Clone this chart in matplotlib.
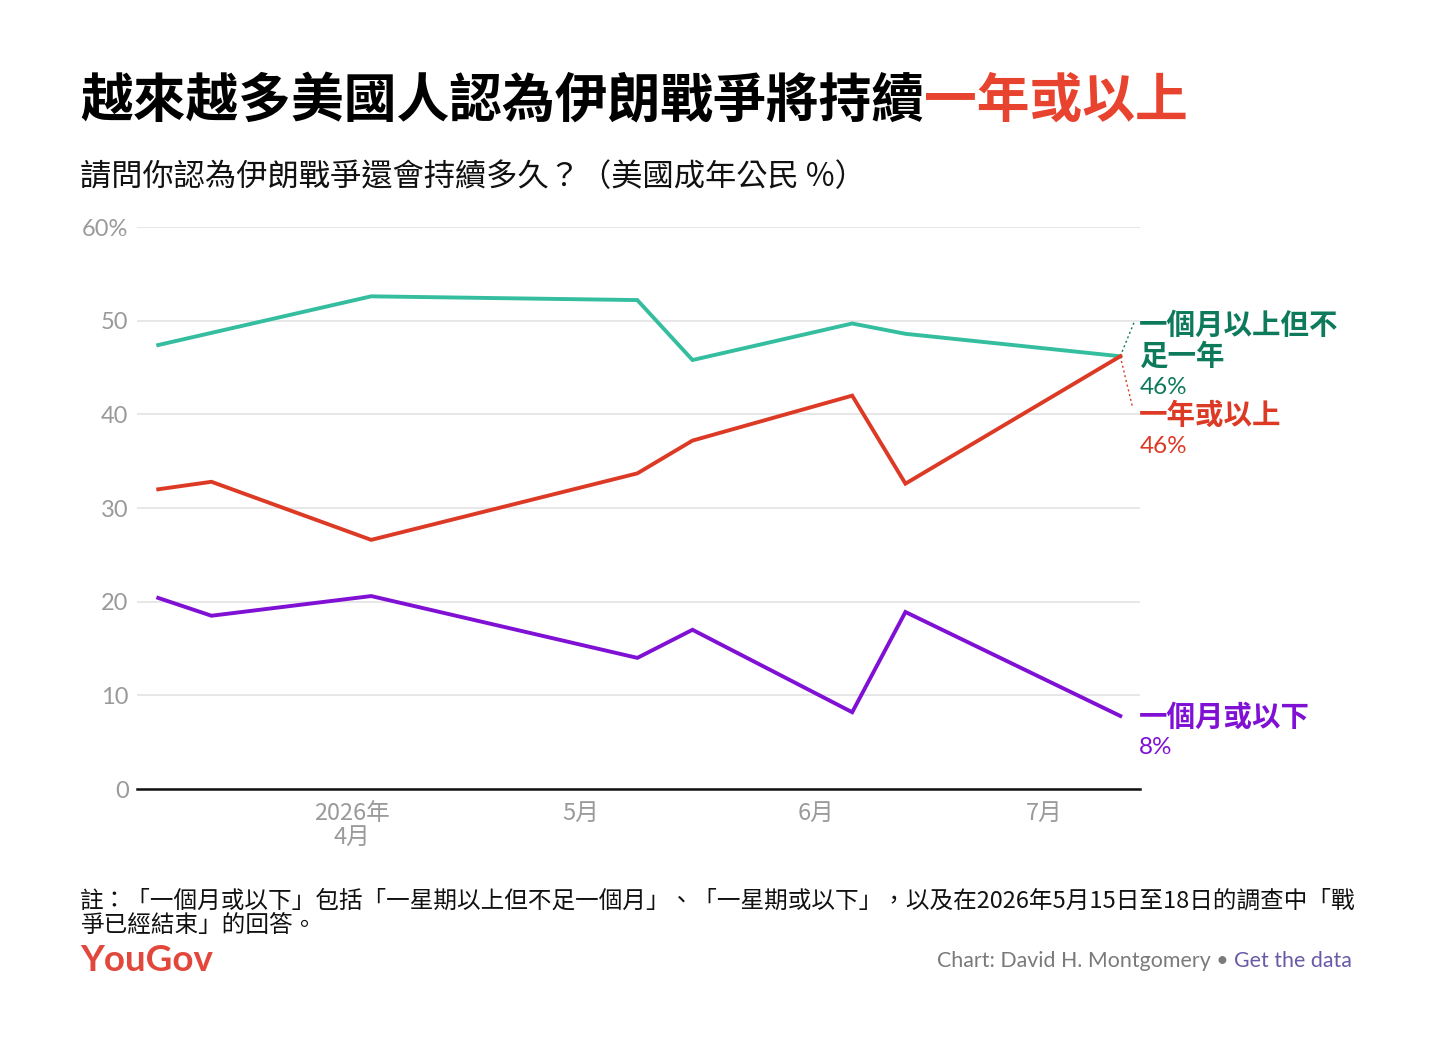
import datetime as dt
import matplotlib
matplotlib.use("Agg")
import matplotlib.pyplot as plt
import matplotlib.dates as mdates

plt.rcParams['font.family'] = ['Noto Sans CJK TC', 'DejaVu Sans']

# survey midpoints and shares (%)
dates = [dt.datetime(2026, 3, 6, 12), dt.datetime(2026, 3, 13, 12), dt.datetime(2026, 4, 3, 12),
         dt.datetime(2026, 5, 8, 12), dt.datetime(2026, 5, 15, 18), dt.datetime(2026, 6, 5, 18),
         dt.datetime(2026, 6, 12, 18), dt.datetime(2026, 7, 11)]
month_to_year = [47.4, 48.7, 52.6, 52.2, 45.8, 49.7, 48.6, 46.2]
year_or_more = [32.0, 32.8, 26.6, 33.7, 37.2, 42.0, 32.6, 46.2]
month_or_less = [20.4, 18.5, 20.6, 14.0, 17.0, 8.2, 18.9, 7.8]

y_ticks = [0, 10, 20, 30, 40, 50, 60]
y_tick_labels = ['0', '10', '20', '30', '40', '50', '60%']
x_ticks = [dt.date(2026, 4, 1), dt.date(2026, 5, 1), dt.date(2026, 6, 1), dt.date(2026, 7, 1)]
x_tick_labels = ['2026年\n4月', '5月', '6月', '7月']

teal = '#35bd9f'
teal_dark = '#0d7a5c'
red = '#dc3a25'
purple = '#7f10d4'
gray = '#9a9a9a'
latin = ['Lato', 'DejaVu Sans']

fig = plt.figure(figsize=(14.4, 10.39), dpi=100)
ax = fig.add_axes([0.0951, 0.2406, 0.6966, 0.5409])

ax.plot(dates, month_to_year, color=teal, lw=2.8, solid_joinstyle='miter', zorder=3)
ax.plot(dates, year_or_more, color=red, lw=2.8, solid_joinstyle='miter', zorder=3)
ax.plot(dates, month_or_less, color=purple, lw=2.8, solid_joinstyle='miter', zorder=3)

apr1 = mdates.date2num(dt.date(2026, 4, 1))
ax.set_ylim(0, 60)
ax.set_xlim(apr1 - 28.3, apr1 + 103.6)
ax.set_yticks(y_ticks)
ax.set_yticklabels(y_tick_labels, fontsize=17, color=gray, family=latin)
ax.set_xticks(x_ticks)
ax.set_xticklabels(x_tick_labels, fontsize=17, color=gray, linespacing=1.05)
ax.tick_params(axis='both', length=0)
ax.tick_params(axis='y', pad=6)
ax.tick_params(axis='x', pad=9)
ax.grid(axis='y', color='#e3e3e3', lw=1.2)
ax.set_axisbelow(True)
for s in ['top', 'right', 'left']:
    ax.spines[s].set_visible(False)
ax.spines['bottom'].set_color('#111111')
ax.spines['bottom'].set_linewidth(1.8)
ax.spines['bottom'].set_zorder(4)

# end labels
end = mdates.date2num(dates[-1])
lx = end + 2.5
ax.plot([end, end + 1.8], [month_to_year[-1], 49.8], color=teal_dark, lw=1, ls=(0, (1.5, 2)), clip_on=False)
ax.plot([end, end + 1.6], [year_or_more[-1], 40.8], color=red, lw=1, ls=(0, (1.5, 2)), clip_on=False)
ax.text(lx, 50.9, '一個月以上但不\n足一年', color=teal_dark, fontsize=20.5, fontweight='bold',
        va='top', ha='left', linespacing=1.1, clip_on=False)
ax.text(lx, 42.9, '46%', color=teal_dark, fontsize=17.5, va='center', ha='left', family=latin)
ax.text(lx, 39.8, '一年或以上', color=red, fontsize=20.5, fontweight='bold', va='center', ha='left')
ax.text(lx, 36.6, '46%', color=red, fontsize=17.5, va='center', ha='left', family=latin)
ax.text(lx, 7.6, '一個月或以下', color=purple, fontsize=20.5, fontweight='bold', va='center', ha='left')
ax.text(lx, 4.4, '8%', color=purple, fontsize=17.5, va='center', ha='left', family=latin)

# title
t1 = fig.text(0.0556, 0.903, '越來越多美國人認為伊朗戰爭將持續', fontsize=38, fontweight='bold', color='#000000', va='center')
fig.canvas.draw()
bb = t1.get_window_extent()
fig.text(bb.x1 / fig.bbox.width, 0.903, '一年或以上', fontsize=38, fontweight='bold', color='#e8432e', va='center')

fig.text(0.0556, 0.830, '請問你認為伊朗戰爭還會持續多久？（美國成年公民 %）', fontsize=22.5, color='#111111', va='center')

fig.text(0.0556, 0.121, '註：「一個月或以下」包括「一星期以上但不足一個月」、「一星期或以下」，以及在2026年5月15日至18日的調查中「戰\n爭已經結束」的回答。',
         fontsize=17, color='#111111', va='center', linespacing=1.1)

fig.text(0.0556, 0.076, 'YouGov', fontsize=26.5, fontweight='bold', color='#e2473c', va='center', family=latin)
t2 = fig.text(0.939, 0.075, 'Get the data', fontsize=15.4, color='#6a5aa6', va='center', ha='right', family=latin)
fig.canvas.draw()
bb2 = t2.get_window_extent()
fig.text(bb2.x0 / fig.bbox.width, 0.075, 'Chart: David H. Montgomery • ', fontsize=15.4, color='#7a7a7a',
         va='center', ha='right', family=latin)

fig.savefig('out.png', dpi=100, facecolor='white')
